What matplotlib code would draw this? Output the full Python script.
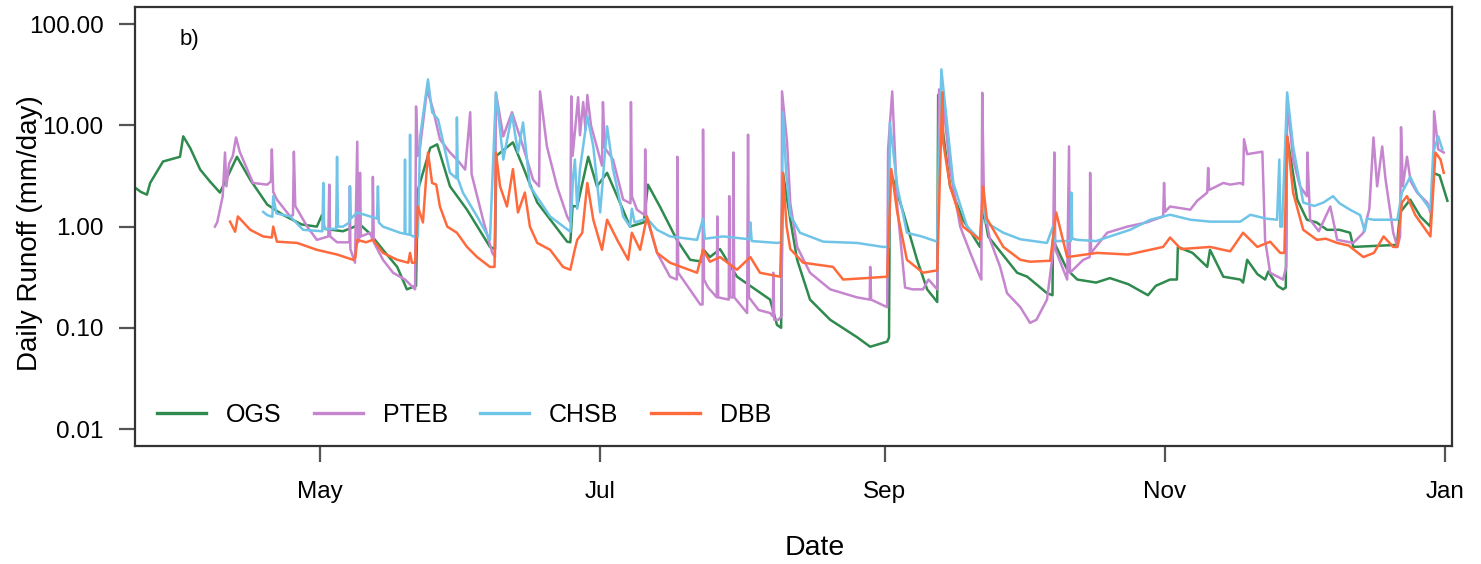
"""Daily runoff, four catchments, log scale (panel b)."""
import matplotlib

matplotlib.use("Agg")
import matplotlib.dates as mdates
import matplotlib.pyplot as plt
import numpy as np
import pandas as pd

YEAR_START = pd.Timestamp("2015-01-01")

# day-of-year (2015, continuing past 365 into January) and runoff in mm/day
OGS_DOY = [80.7, 82.0, 83.3, 84.0, 86.8, 90.5, 91.2, 92.7, 94.9, 97.0, 99.2, 102.9, 105.8,
           109.5, 113.0, 117.0, 120.3, 121.4, 122.0, 126.0, 129.7, 131.9, 134.7, 137.8,
           139.9, 141.9, 142.3, 145.0, 146.5, 149.3, 153.0, 158.0, 159.1, 159.4, 163.0,
           165.2, 168.3, 174.8, 175.5, 176.0, 177.0, 179.4, 181.3, 183.5, 186.3, 188.5,
           191.5, 192.4, 195.0, 198.7, 201.6, 204.3, 204.4, 205.9, 208.1, 211.8, 219.0,
           220.5, 221.4, 221.8, 223.4, 224.9, 227.7, 232.1, 237.9, 240.8, 244.5, 244.9,
           245.1, 248.0, 251.0, 253.2, 255.4, 255.6, 258.2, 261.0, 264.7, 265.4, 266.5,
           272.8, 275.0, 279.3, 280.5, 280.6, 283.7, 285.9, 290.0, 293.0, 297.0, 301.3,
           303.0, 306.1, 307.6, 307.8, 311.0, 314.2, 314.8, 317.7, 321.4, 322.0, 322.9,
           325.1, 326.8, 327.5, 329.5, 330.7, 331.3, 331.6, 333.8, 335.9, 338.0, 340.3,
           343.0, 345.3, 346.0, 355.5, 356.2, 358.4, 360.6, 362.8, 363.4, 364.8, 366.5]
OGS_RUNOFF = [2.43, 2.2, 2.07, 2.7, 4.4, 4.9, 7.8, 6.0, 3.66, 2.8, 2.17, 4.9, 2.9,
              1.65, 1.3, 1.05, 1.0, 1.3, 0.95, 0.9, 1.05, 0.85, 0.59, 0.4,
              0.24, 0.26, 2.3, 6.0, 6.5, 2.5, 1.47, 0.63, 0.6, 5.0, 6.8,
              3.9, 1.73, 0.71, 0.7, 1.6, 1.58, 4.9, 2.5, 3.4, 1.73, 1.0,
              1.1, 2.6, 1.58, 0.74, 0.47, 0.45, 0.6, 0.5, 0.6, 0.32, 0.19,
              0.107, 0.1, 3.4, 1.17, 0.47, 0.19, 0.12, 0.081, 0.065, 0.073, 0.08,
              3.7, 1.38, 0.47, 0.24, 0.18, 20.0, 2.5, 1.17, 0.63, 1.5, 0.8,
              0.35, 0.32, 0.22, 0.21, 0.74, 0.375, 0.30, 0.28, 0.31, 0.27, 0.21,
              0.26, 0.30, 0.30, 0.63, 0.55, 0.40, 0.59, 0.32, 0.30, 0.28, 0.47,
              0.34, 0.30, 0.36, 0.26, 0.24, 0.25, 7.8, 1.85, 1.17, 1.1, 0.93,
              0.93, 0.87, 0.63, 0.66, 1.38, 1.85, 1.26, 1.0, 3.4, 3.2, 1.8]

PTEB_DOY = [98.1, 98.6, 99.8, 100.3, 100.6, 101.2, 102.0, 102.7, 103.5, 106.4, 109.5, 110.3,
            110.5, 110.8, 111.6, 114.5, 115.1, 115.3, 115.6, 118.2, 120.3, 122.8, 123.0,
            123.2, 124.7, 127.4, 127.5, 127.6, 128.6, 129.1, 129.3, 129.6, 129.7, 129.9,
            131.9, 132.4, 132.5, 132.7, 134.7, 136.9, 139.5, 141.7, 141.9, 142.3, 142.8,
            144.3, 145.6, 147.1, 149.3, 151.0, 152.6, 153.7, 154.0, 156.5, 158.5, 159.1,
            159.3, 160.9, 162.8, 165.2, 167.4, 168.7, 168.9, 170.4, 172.6, 174.8, 175.5,
            175.7, 176.0, 177.2, 177.6, 178.3, 178.8, 179.2, 180.0, 182.4, 182.6, 183.0,
            184.8, 187.0, 188.6, 188.7, 188.9, 190.0, 191.7, 191.8, 192.0, 194.4, 197.2,
            198.7, 198.8, 199.0, 203.8, 204.3, 204.4, 204.6, 205.5, 207.4, 207.5, 207.7,
            210.0, 210.1, 210.3, 210.9, 211.0, 211.2, 214.0, 214.2, 214.4, 216.5, 219.0,
            219.6, 219.7, 219.9, 220.8, 221.5, 221.6, 222.7, 223.4, 224.9, 227.7, 232.1,
            237.9, 240.7, 240.8, 241.0, 244.5, 244.7, 245.6, 246.7, 248.4, 250.0, 252.3,
            253.5, 255.4, 255.8, 256.7, 258.2, 260.4, 262.6, 264.7, 265.0, 265.2, 265.6,
            266.9, 269.1, 270.6, 273.5, 275.6, 277.0, 279.3, 280.6, 280.9, 281.1, 283.7,
            284.1, 284.3, 287.2, 288.6, 288.7, 288.9, 292.4, 296.8, 301.0, 304.6, 304.8,
            305.0, 306.1, 310.5, 312.0, 314.2, 314.4, 314.6, 317.7, 319.2, 321.4, 322.0,
            322.2, 322.9, 326.2, 326.8, 327.9, 330.7, 331.4, 331.6, 332.9, 334.4, 335.9,
            336.0, 336.6, 338.5, 341.0, 342.5, 346.0, 348.2, 349.5, 350.4, 351.2, 352.3,
            353.0, 354.7, 355.6, 356.2, 356.4, 356.8, 357.7, 358.5, 359.9, 362.1, 362.8,
            363.4, 363.6, 364.5, 365.7]
PTEB_RUNOFF = [1.0, 1.1, 2.0, 5.4, 2.5, 4.2, 5.0, 7.6, 5.5, 2.7, 2.6, 2.8,
               5.8, 2.2, 1.85, 1.26, 1.3, 5.5, 1.6, 1.0, 0.74, 0.8, 2.6,
               0.8, 0.7, 0.7, 2.5, 0.6, 0.44, 6.9, 0.7, 0.8, 3.4, 0.8,
               0.87, 0.75, 3.1, 0.7, 0.47, 0.35, 0.30, 0.24, 15.4, 5.0, 6.2,
               22.7, 14.4, 7.3, 5.4, 4.5, 3.66, 13.5, 3.3, 1.17, 0.55, 0.5,
               21.0, 7.8, 13.5, 6.2, 2.9, 2.5, 21.7, 6.2, 2.5, 1.26, 1.1,
               19.4, 5.0, 19.0, 8.0, 17.0, 9.0, 20.0, 10.0, 4.0, 17.0, 6.0,
               4.6, 1.85, 1.7, 17.0, 2.0, 1.47, 1.3, 5.8, 1.3, 0.55, 0.32,
               0.3, 4.9, 0.35, 0.17, 0.17, 9.1, 0.3, 0.25, 0.2, 1.26, 0.2,
               0.19, 2.0, 0.2, 0.2, 5.4, 0.2, 0.14, 8.1, 0.2, 0.15, 0.14,
               0.13, 0.35, 0.12, 0.12, 0.13, 21.7, 6.8, 1.7, 0.63, 0.35, 0.24,
               0.2, 0.19, 0.4, 0.19, 0.16, 5.8, 21.7, 1.58, 0.25, 0.24, 0.24,
               0.3, 0.24, 22.7, 17.0, 3.7, 1.0, 0.55, 0.32, 0.3, 21.0, 1.5,
               0.74, 0.4, 0.22, 0.16, 0.112, 0.12, 0.19, 0.55, 5.4, 0.6, 0.30,
               6.2, 0.35, 0.47, 0.5, 3.4, 0.55, 0.87, 1.0, 1.1, 1.26, 2.7,
               1.4, 1.58, 1.47, 1.8, 2.17, 3.8, 2.3, 2.7, 2.6, 2.7, 2.6,
               7.3, 5.2, 5.5, 0.74, 0.35, 0.30, 0.4, 18.0, 4.6, 2.5, 2.0,
               5.4, 1.17, 0.9, 1.58, 0.74, 0.69, 0.87, 1.5, 7.6, 2.5, 6.2,
               3.0, 0.87, 0.63, 0.8, 9.6, 2.5, 4.9, 2.8, 2.17, 1.73, 1.38,
               3.0, 13.8, 5.8, 5.4]

CHSB_DOY = [108.6, 109.5, 110.6, 110.8, 111.5, 114.5, 117.3, 121.5, 121.7, 121.9, 124.5,
            124.7, 124.9, 126.0, 127.4, 127.5, 127.7, 129.1, 131.9, 133.4, 133.6, 133.8,
            134.7, 138.4, 139.4, 139.5, 139.6, 140.5, 140.6, 140.7, 141.3, 142.3, 142.8,
            144.5, 145.4, 146.7, 149.3, 150.7, 150.8, 151.0, 152.1, 155.2, 158.0, 159.3,
            160.9, 162.8, 164.1, 165.2, 166.7, 171.1, 175.5, 176.1, 176.5, 177.0, 177.6,
            179.2, 180.5, 182.0, 183.5, 184.8, 187.0, 188.5, 188.9, 189.5, 192.2, 194.4,
            197.2, 203.1, 204.4, 204.8, 208.8, 214.5, 214.7, 215.0, 220.5, 221.5, 221.8,
            222.5, 223.4, 225.5, 230.6, 237.9, 243.6, 244.9, 245.1, 246.7, 248.8, 252.0,
            255.4, 256.3, 257.6, 258.9, 261.9, 264.7, 265.4, 266.0, 269.8, 273.5, 279.3,
            280.6, 281.0, 284.5, 284.6, 284.8, 285.9, 290.0, 293.0, 297.4, 301.8, 306.1,
            310.5, 314.8, 321.4, 323.6, 327.0, 329.4, 329.9, 330.1, 330.5, 331.6, 332.9,
            335.1, 337.5, 339.5, 341.6, 343.0, 345.3, 347.5, 348.5, 349.0, 350.4, 353.0,
            355.6, 356.6, 358.4, 360.0, 362.8, 363.4, 364.5, 365.4]
CHSB_RUNOFF = [1.4, 1.3, 1.25, 2.0, 1.35, 1.26, 0.93, 0.9, 2.7, 0.95, 0.95,
               4.9, 1.0, 1.0, 1.1, 2.5, 1.2, 1.38, 1.26, 1.2, 2.5, 1.1,
               1.0, 0.87, 0.85, 4.6, 0.85, 0.83, 8.1, 0.83, 0.8, 0.8, 7.8,
               28.5, 13.5, 11.5, 3.4, 3.0, 12.0, 3.0, 2.17, 1.26, 0.74, 21.2,
               4.6, 12.8, 5.4, 10.7, 2.5, 1.26, 0.89, 3.1, 4.6, 1.5, 3.7,
               12.3, 6.2, 1.38, 9.8, 3.7, 1.26, 1.0, 1.5, 1.1, 1.2, 0.93,
               0.8, 0.74, 1.2, 0.76, 0.8, 0.75, 1.1, 0.72, 0.69, 0.7, 13.5,
               3.4, 1.3, 0.87, 0.71, 0.69, 0.63, 0.63, 10.7, 2.5, 0.87, 0.8,
               0.71, 35.8, 9.8, 2.7, 1.0, 0.74, 1.85, 1.1, 0.87, 0.75, 0.69,
               1.0, 0.72, 0.72, 2.17, 0.76, 0.74, 0.72, 0.8, 0.93, 1.17, 1.31,
               1.17, 1.12, 1.12, 1.31, 1.2, 1.17, 4.6, 1.0, 1.0, 21.2, 6.2,
               1.73, 1.6, 1.73, 2.0, 1.7, 1.47, 1.3, 0.9, 1.2, 1.17, 1.17,
               1.17, 2.17, 3.1, 2.2, 1.47, 5.4, 7.8, 5.8]

DBB_DOY = [101.4, 102.5, 103.1, 105.8, 108.6, 110.5, 110.8, 111.6, 116.0, 120.3, 124.7,
           128.2, 128.7, 129.1, 131.0, 132.5, 134.7, 137.8, 140.2, 140.6, 141.0, 141.7,
           142.3, 143.4, 144.5, 145.4, 146.3, 147.1, 148.7, 150.8, 153.0, 155.2, 158.0,
           159.0, 159.3, 160.2, 161.7, 163.0, 164.1, 165.6, 166.7, 168.3, 171.1, 173.9,
           175.5, 176.5, 177.0, 178.1, 179.2, 180.5, 182.4, 183.5, 185.7, 188.1, 188.9,
           190.7, 192.2, 194.4, 197.2, 203.1, 204.4, 205.9, 208.1, 211.8, 214.7, 216.8,
           221.2, 221.8, 222.6, 223.4, 226.2, 232.7, 234.9, 240.0, 244.5, 245.4, 246.7,
           248.8, 252.3, 255.4, 256.5, 256.7, 258.2, 261.0, 264.7, 265.4, 266.2, 269.8,
           273.5, 275.6, 280.0, 281.3, 283.7, 290.2, 297.0, 304.6, 306.1, 308.5, 314.8,
           319.2, 322.0, 325.1, 327.9, 330.1, 331.0, 331.6, 332.9, 335.1, 338.1, 340.0,
           342.5, 345.0, 348.2, 350.5, 352.6, 354.7, 355.6, 356.6, 357.7, 359.5, 362.8,
           363.9, 365.0, 365.7]
DBB_RUNOFF = [1.12, 0.89, 1.26, 0.93, 0.8, 0.78, 1.0, 0.71, 0.69, 0.59, 0.53,
              0.47, 0.5, 0.74, 0.7, 0.74, 0.55, 0.47, 0.44, 0.55, 0.44, 0.44,
              1.58, 1.1, 5.4, 2.7, 2.6, 1.58, 1.0, 0.87, 0.63, 0.5, 0.4,
              0.4, 5.4, 2.5, 1.58, 3.7, 1.38, 2.17, 1.0, 0.69, 0.59, 0.4,
              0.375, 0.6, 0.74, 0.87, 2.7, 1.17, 0.59, 1.17, 0.74, 0.47, 0.87,
              0.59, 1.26, 0.55, 0.44, 0.35, 0.59, 0.45, 0.5, 0.375, 0.5, 0.35,
              0.32, 3.4, 1.0, 0.6, 0.44, 0.40, 0.30, 0.31, 0.32, 3.7, 1.38,
              0.47, 0.35, 0.37, 21.2, 6.8, 2.5, 1.0, 0.74, 2.5, 1.2, 0.63,
              0.47, 0.45, 0.46, 1.38, 0.5, 0.55, 0.53, 0.63, 0.78, 0.6, 0.63,
              0.57, 0.87, 0.63, 0.71, 0.55, 0.55, 7.8, 2.17, 0.93, 0.74, 0.76,
              0.69, 0.65, 0.5, 0.55, 0.8, 0.63, 0.63, 1.73, 2.0, 1.3, 0.8,
              5.4, 4.6, 3.4]

SERIES = [
    ("OGS", OGS_DOY, OGS_RUNOFF, "#2f8a4e"),
    ("PTEB", PTEB_DOY, PTEB_RUNOFF, "#c685cf"),
    ("CHSB", CHSB_DOY, CHSB_RUNOFF, "#6fc4e8"),
    ("DBB", DBB_DOY, DBB_RUNOFF, "#ff6a3d"),
]
Y_TICKS = [0.01, 0.1, 1, 10, 100]
Y_TICK_LABELS = ["0.01", "0.10", "1.00", "10.00", "100.00"]
X_TICK_DATES = ["2015-05-01", "2015-07-01", "2015-09-01", "2015-11-01", "2016-01-01"]

plt.rcParams["font.family"] = ["Liberation Sans", "DejaVu Sans"]

W, H = 1481, 564


def to_dates(doy):
    return YEAR_START + pd.to_timedelta(np.asarray(doy) - 1, unit="D")


fig = plt.figure(figsize=(W / 100, H / 100), dpi=100)
# axes box in pixels: x 135..1452, y 7.3..445.7 (from top)
ax = fig.add_axes([135 / W, 1 - 445.7 / H, (1452 - 135) / W, (445.7 - 7.3) / H])

for name, doy, vals, color in SERIES:
    ax.plot(to_dates(doy), vals, color=color, lw=1.8, label=name)

ax.set_yscale("log")
ax.set_ylim(0.00684, 147)
ax.set_yticks(Y_TICKS)
ax.set_yticklabels(Y_TICK_LABELS)
ax.yaxis.set_minor_locator(matplotlib.ticker.NullLocator())

ax.set_xlim(to_dates([80.7])[0], to_dates([367.5])[0])
ax.set_xticks(pd.to_datetime(X_TICK_DATES))
ax.xaxis.set_major_formatter(mdates.DateFormatter("%b"))

ax.tick_params(direction="out", length=11.5, width=1.6, labelsize=17.5, color="#555555",
               labelcolor="black")
ax.tick_params(axis="y", pad=11)
ax.tick_params(axis="x", pad=14)
for sp in ax.spines.values():
    sp.set_linewidth(1.6)
    sp.set_color("#333333")

fig.text(30 / W, 1 - 233 / H, "Daily Runoff (mm/day)", rotation=90, fontsize=20,
         ha="center", va="center")
fig.text(815 / W, 1 - 548 / H, "Date", fontsize=20.5, ha="center", va="center")
ax.text((180 - 135) / 1317, (445.7 - 40) / 438.4, "b)", transform=ax.transAxes,
        fontsize=16, va="center")

leg = ax.legend(loc="center left", bbox_to_anchor=((157 - 135) / 1317, (445.7 - 415) / 438.4),
                ncol=4, frameon=False, fontsize=18, handlelength=1.95, columnspacing=1.3,
                handletextpad=0.8, borderpad=0, borderaxespad=0)
for line in leg.get_lines():
    line.set_linewidth(2.4)

fig.savefig("out.png", dpi=100)
